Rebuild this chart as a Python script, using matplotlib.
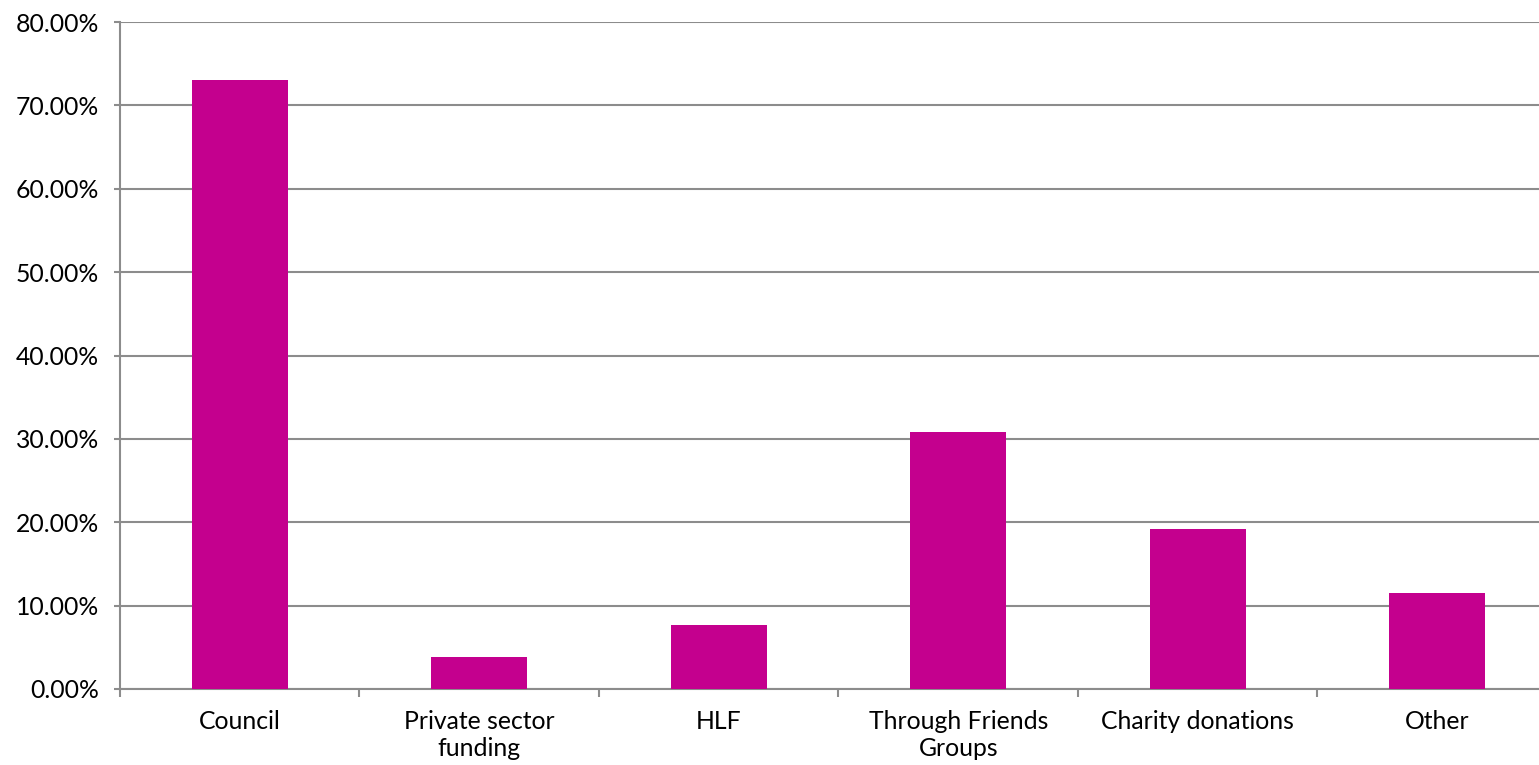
import matplotlib.pyplot as plt
from matplotlib.ticker import FuncFormatter

categories = ['Council', 'Private sector\nfunding', 'HLF', 'Through Friends\nGroups',
              'Charity donations', 'Other']
shares = [73.08, 3.85, 7.69, 30.77, 19.23, 11.54]
y_ticks = [0, 10, 20, 30, 40, 50, 60, 70, 80]

plt.rcParams['font.family'] = ['Lato', 'DejaVu Sans']

fig = plt.figure(figsize=(15.39, 7.65), dpi=100)
W, H = 1539, 765
ax = fig.add_axes([120 / W, (H - 689) / H, 1437 / W, (689 - 22) / H])

grid_col = '#8c8c8c'
x = range(len(categories))
ax.bar(x, shares, width=0.4, color='#c4008e', zorder=3)

ax.set_xlim(-0.5, len(categories) - 0.5)
ax.set_ylim(0, 80)
ax.set_yticks(y_ticks)
ax.yaxis.set_major_formatter(FuncFormatter(lambda v, p: f'{v:.2f}%'))
ax.yaxis.grid(True, color=grid_col, linewidth=1.5, zorder=0)

ax.set_xticks([i - 0.5 for i in range(len(categories) + 1)], minor=False)
ax.set_xticklabels([])
ax.set_xticks(list(x), minor=True)
ax.set_xticklabels(categories, minor=True, linespacing=1.22)
ax.tick_params(axis='x', which='major', length=5.8, width=1.5, color=grid_col, direction='out')
ax.tick_params(axis='x', which='minor', length=0, pad=15, labelsize=17.8)
ax.tick_params(axis='y', length=4.3, width=1.5, color=grid_col, labelsize=17.8, pad=11)

for side in ['top', 'right']:
    ax.spines[side].set_visible(False)
for side in ['left', 'bottom']:
    ax.spines[side].set_color(grid_col)
    ax.spines[side].set_linewidth(1.5)

fig.savefig('out.png', dpi=100)
